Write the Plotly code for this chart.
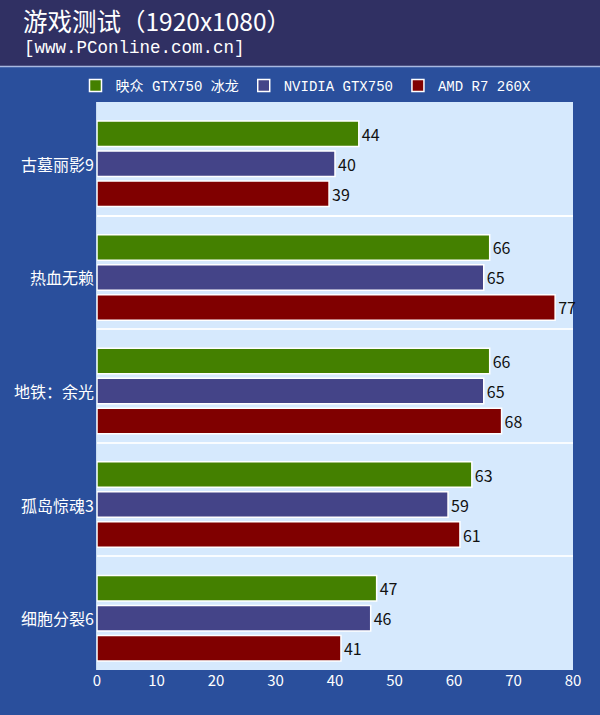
import plotly.graph_objects as go

categories = ["古墓丽影9", "热血无赖", "地铁：余光", "孤岛惊魂3", "细胞分裂6"]
series_names = ["映众 GTX750 冰龙", "NVIDIA GTX750", "AMD R7 260X"]
inno3d = [44, 66, 66, 63, 47]
nvidia = [40, 65, 65, 59, 46]
amd = [39, 77, 68, 61, 41]
x_ticks = [0, 10, 20, 30, 40, 50, 60, 70, 80]
colors = ["#448000", "#444488", "#800000"]

W, H = 600, 715
ML, MR, MT, MB = 97, 27, 102, 45
PW, PH = W - ML - MR, H - MT - MB
BAND = PH / len(categories)

def px_x(p):
    return (p - ML) / PW

def px_y(p):
    return (H - MB - p) / PH

BAR_W = 25.5 / BAND
SHIFT = 5 / BAND
STEP = 30 / BAND
offsets = [SHIFT + (k - 1) * STEP - BAR_W / 2 for k in range(3)]

fig = go.Figure()
for name, vals, col, off in zip(series_names, [inno3d, nvidia, amd], colors, offsets):
    fig.add_trace(go.Bar(
        name=name, y=categories, x=vals, orientation="h",
        width=BAR_W, offset=off,
        marker=dict(color=col, line=dict(color="white", width=1.5)),
        text=[str(v) for v in vals], textposition="outside",
        textfont=dict(family="Noto Sans CJK SC, sans-serif", size=16, color="#111111"),
        cliponaxis=False,
    ))

annotations = [
    dict(text="游戏测试（1920x1080）", xref="paper", yref="paper",
         x=px_x(21), y=px_y(20), xanchor="left", yanchor="middle", showarrow=False,
         font=dict(family="Noto Sans CJK SC, sans-serif", size=24.5, color="white")),
    dict(text="[www.PConline.com.cn]", xref="paper", yref="paper",
         x=px_x(22), y=px_y(48.5), xanchor="left", yanchor="middle", showarrow=False,
         font=dict(family="Liberation Mono, monospace", size=17.5, color="white")),
]
for i, c in enumerate(categories):
    annotations.append(dict(text=c, xref="paper", yref="y", x=0, y=i + SHIFT,
                            xanchor="right", yanchor="middle", xshift=-1, showarrow=False,
                            font=dict(family="Noto Sans CJK SC, sans-serif", size=16, color="white")))

fig.update_layout(
    width=W, height=H,
    margin=dict(l=ML, r=MR, t=MT, b=MB, pad=0),
    paper_bgcolor="#2a4f9c",
    plot_bgcolor="#d6e9fd",
    barmode="overlay",
    font=dict(family="Noto Sans CJK SC, sans-serif", color="white"),
    showlegend=True,
    legend=dict(orientation="h", x=px_x(306), xanchor="center", y=px_y(70), yanchor="top",
                font=dict(family="Liberation Mono, Noto Sans CJK SC, monospace", size=14, color="white"),
                traceorder="normal", bgcolor="rgba(0,0,0,0)"),
    xaxis=dict(range=[0, 80], tickvals=x_ticks, showgrid=False, zeroline=False,
               ticks="", tickfont=dict(size=15, color="white"), fixedrange=True,
               showline=False),
    yaxis=dict(type="category", autorange="reversed", tickson="boundaries",
               showgrid=True, gridcolor="rgba(255,255,255,0.85)", gridwidth=1.5,
               ticks="", showticklabels=False, fixedrange=True,
               showline=True, linecolor="#c8dcf0", linewidth=1),
    shapes=[
        dict(type="rect", xref="paper", yref="paper", x0=px_x(-5), x1=px_x(W + 5),
             y0=px_y(66), y1=px_y(-5), fillcolor="#303063", line=dict(width=0), layer="below"),
        dict(type="line", xref="paper", yref="paper", x0=px_x(0), x1=px_x(W),
             y0=px_y(66.5), y1=px_y(66.5), line=dict(color="#a8b8e0", width=1.5)),
    ],
    annotations=annotations,
)

fig.write_html("out.html", config={"displayModeBar": False},
               post_script="document.body.style.margin='0';document.body.style.padding='0';document.body.style.overflow='hidden';")
